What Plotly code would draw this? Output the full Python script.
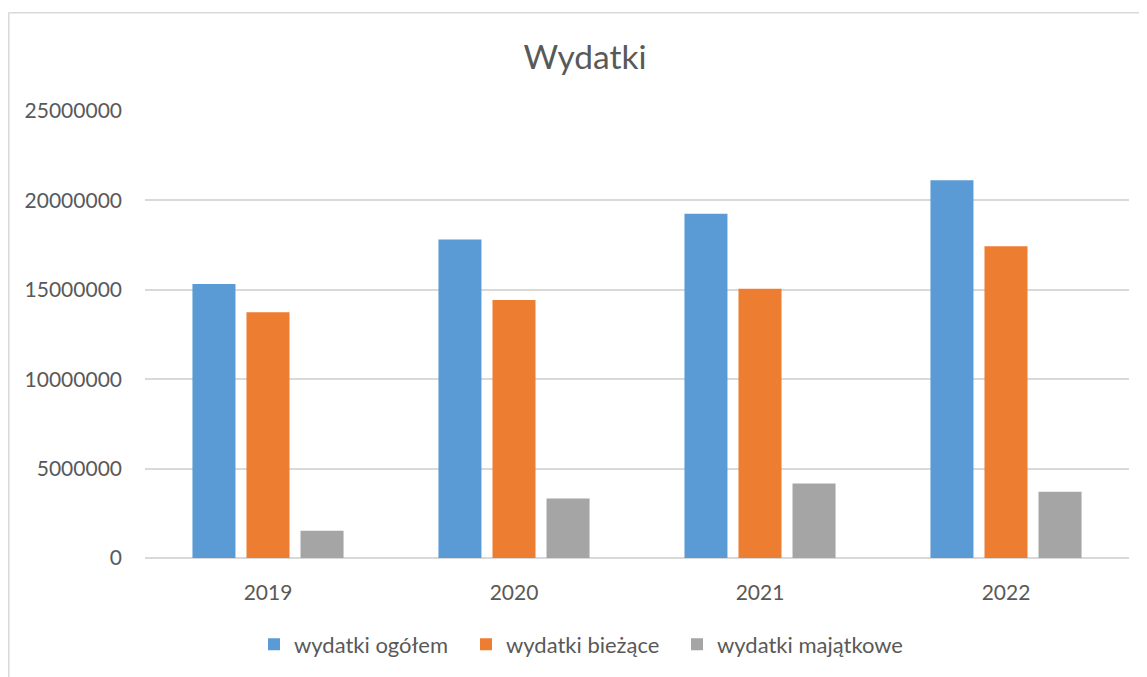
import plotly.graph_objects as go

years = ["2019", "2020", "2021", "2022"]
series_names = ["wydatki ogółem", "wydatki bieżące", "wydatki majątkowe"]
wydatki_ogolem = [15320000, 17820000, 19260000, 21130000]
wydatki_biezace = [13740000, 14430000, 15060000, 17430000]
wydatki_majatkowe = [1520000, 3330000, 4170000, 3710000]
colors = ["#5B9BD5", "#ED7D31", "#A5A5A5"]
y_ticks = [0, 5000000, 10000000, 15000000, 20000000, 25000000]

# the page body adds an 8px offset; layout coordinates are in figure pixels
OFF = 8
W, H = 1147 - OFF, 677 - OFF
L, T = 145 - OFF, 111 - OFF
PLOT_R, PLOT_B = 1129 - OFF, 561 - OFF
R, B = W - PLOT_R, H - PLOT_B
pw, ph = PLOT_R - L, PLOT_B - T

def px_x(px):
    return (px - OFF - L) / pw

def px_y(py):
    return (PLOT_B - (py - OFF)) / ph

FONT = "Lato, 'Open Sans', sans-serif"
GREY_TXT = "#595959"

legend_ids = ["legend", "legend2", "legend3"]
legend_left_px = [254, 466, 677]

fig = go.Figure()
for name, vals, c, lg in zip(series_names, [wydatki_ogolem, wydatki_biezace, wydatki_majatkowe],
                             colors, legend_ids):
    fig.add_trace(go.Bar(x=years, y=vals, name=name, legend=lg,
                         marker=dict(color=c, line=dict(width=0))))

legend_style = dict(font=dict(size=22, color=GREY_TXT, family=FONT), itemwidth=30,
                    xanchor="left", yanchor="middle", y=px_y(648), orientation="h",
                    bgcolor="rgba(0,0,0,0)")

fig.update_layout(
    width=W, height=H,
    margin=dict(l=L, r=R, t=T, b=B),
    paper_bgcolor="white", plot_bgcolor="white",
    barmode="group", bargap=0.341, bargroupgap=0.204,
    font=dict(family=FONT, color=GREY_TXT, size=21),
    title=dict(text="Wydatki", x=(585 - OFF) / W, xref="container", xanchor="center",
               y=1 - (57 - OFF) / H, yref="container", yanchor="middle",
               font=dict(size=33.5, color=GREY_TXT, family=FONT)),
    showlegend=True,
    legend=dict(x=px_x(legend_left_px[0]), **legend_style),
    legend2=dict(x=px_x(legend_left_px[1]), **legend_style),
    legend3=dict(x=px_x(legend_left_px[2]), **legend_style),
    xaxis=dict(showgrid=False, showline=False, ticks="", ticklabelstandoff=20,
               tickfont=dict(size=21, color=GREY_TXT)),
    yaxis=dict(range=[0, 25000000], tickvals=y_ticks, tickformat="d",
               showgrid=True, gridcolor="#D9D9D9", gridwidth=1.5,
               zeroline=True, zerolinecolor="#D9D9D9", zerolinewidth=1.5,
               showline=False, ticks="", ticklabelstandoff=22,
               tickfont=dict(size=21, color=GREY_TXT)),
    shapes=[
        dict(type="line", xref="paper", yref="paper", x0=px_x(8.5), x1=px_x(1160), y0=px_y(12), y1=px_y(12),
             line=dict(color="#D9D9D9", width=1.5)),
        dict(type="line", xref="paper", yref="paper", x0=px_x(8.8), x1=px_x(8.8), y0=px_y(12), y1=px_y(690),
             line=dict(color="#D9D9D9", width=1.5)),
    ],
)

fig.write_html("out.html")
